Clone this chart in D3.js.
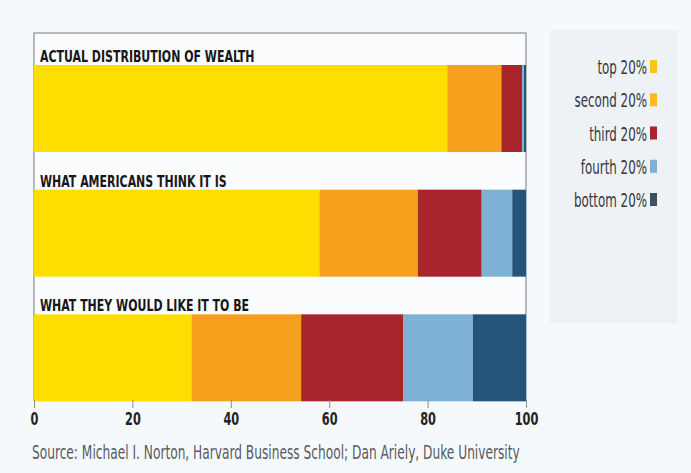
<!DOCTYPE html>
<html>
<head>
<meta charset="utf-8">
<script src="https://cdn.jsdelivr.net/npm/d3@7"></script>
<style>
  body { margin: 0; background: #f6f9fc; }
  svg { display: block; }
</style>
</head>
<body>
<div id="chart"></div>
<script>
  const width = 691;
  const height = 473;

  // Data
  const scenarios = ["ACTUAL DISTRIBUTION OF WEALTH", "WHAT AMERICANS THINK IT IS", "WHAT THEY WOULD LIKE IT TO BE"];
  const groups = ["top 20%", "second 20%", "third 20%", "fourth 20%", "bottom 20%"];
  const actual = [84, 11, 4.2, 0.4, 0.4];
  const think = [58, 20, 13, 6.2, 2.8];
  const ideal = [32, 22.3, 20.7, 14.2, 10.8];
  const ticks = [0, 20, 40, 60, 80, 100];
  const source = "Source: Michael I. Norton, Harvard Business School; Dan Ariely, Duke University";

  const barCols = ["#fedd00", "#f6a11e", "#a9242b", "#7db2d6", "#245479"];
  const legendCols = ["#f8c617", "#f6bd1c", "#a9242b", "#7db2d6", "#3d5060"];

  const rows = scenarios.map((s, i) => {
    const vals = [actual, think, ideal][i];
    let acc = 0;
    return { name: s, segs: vals.map((v, j) => { const d = { g: groups[j], x0: acc, x1: acc + v }; acc += v; return d; }) };
  });

  const font = "'DejaVu Sans Condensed', 'Liberation Sans', sans-serif";

  // squeeze text horizontally around its anchor point, like the condensed face of the original
  function squeeze(sel, factor) {
    sel.each(function () {
      const t = d3.select(this);
      const ax = +t.attr("x") || 0;
      const ay = +t.attr("y") || 0;
      t.attr("transform", `translate(${ax * (1 - factor)}, 0) scale(${factor}, 1)`);
    });
  }

  const svg = d3.select("#chart").append("svg")
    .attr("width", width)
    .attr("height", height)
    .style("font-family", font);

  // plot frame
  const plotLeft = 34, plotRight = 526, plotTop = 33, plotBottom = 400;

  svg.append("rect")
    .attr("x", plotLeft).attr("y", plotTop)
    .attr("width", plotRight - plotLeft).attr("height", plotBottom - plotTop)
    .attr("fill", "#fbfcfd")
    .attr("stroke", "#8a8d91")
    .attr("stroke-width", 1.2);

  const x = d3.scaleLinear().domain([0, 100]).range([plotLeft, plotRight]);

  // each row: heading band + bar band
  const y = d3.scaleBand().domain(scenarios).range([plotTop + 14, plotBottom + 21]);
  const barH = 87;

  const row = svg.selectAll("g.row")
    .data(rows)
    .enter()
    .append("g")
    .attr("class", "row")
    .attr("transform", d => `translate(0, ${y(d.name)})`);

  row.append("text")
    .attr("x", plotLeft + 6)
    .attr("y", 15)
    .attr("font-size", 16.5)
    .attr("font-weight", "bold")
    .attr("fill", "#17171b")
    .text(d => d.name)
    .call(squeeze, 0.74);

  row.selectAll("rect")
    .data(d => d.segs)
    .enter()
    .append("rect")
    .attr("x", d => x(d.x0))
    .attr("y", 18)
    .attr("width", d => x(d.x1) - x(d.x0))
    .attr("height", barH)
    .attr("fill", (d, i) => barCols[i]);

  // axis
  const axis = svg.append("g")
    .attr("transform", `translate(0, ${plotBottom})`)
    .call(d3.axisBottom(x).tickValues(ticks).tickSize(8).tickPadding(5).tickFormat(d3.format("d")));
  axis.select(".domain").remove();
  axis.selectAll("line").attr("stroke", "#8a8d91");
  axis.selectAll(".tick text")
    .attr("font-family", font)
    .attr("font-size", 17.5)
    .attr("font-weight", "bold")
    .attr("fill", "#222")
    .call(squeeze, 0.72);

  // source
  const src = svg.append("text")
    .attr("x", 32)
    .attr("y", 459)
    .attr("font-size", 19)
    .attr("fill", "#565b62")
    .text(source);
  const srcW = src.node().getComputedTextLength();
  src.call(squeeze, 488 / srcW);

  // legend
  svg.append("rect")
    .attr("x", 550).attr("y", 30)
    .attr("width", 128).attr("height", 293)
    .attr("fill", "#eef2f6");

  const ly = d3.scalePoint().domain(groups).range([67, 200]);

  const leg = svg.selectAll("g.leg")
    .data(groups)
    .enter()
    .append("g")
    .attr("class", "leg")
    .attr("transform", d => `translate(0, ${ly(d)})`);

  leg.append("text")
    .attr("x", 647)
    .attr("y", 7)
    .attr("text-anchor", "end")
    .attr("font-size", 20)
    .attr("fill", "#34373c")
    .text(d => d)
    .call(squeeze, 0.66);

  leg.append("rect")
    .attr("x", 650).attr("y", -7)
    .attr("width", 7).attr("height", 13)
    .attr("fill", (d, i) => legendCols[i]);
</script>
</body>
</html>
